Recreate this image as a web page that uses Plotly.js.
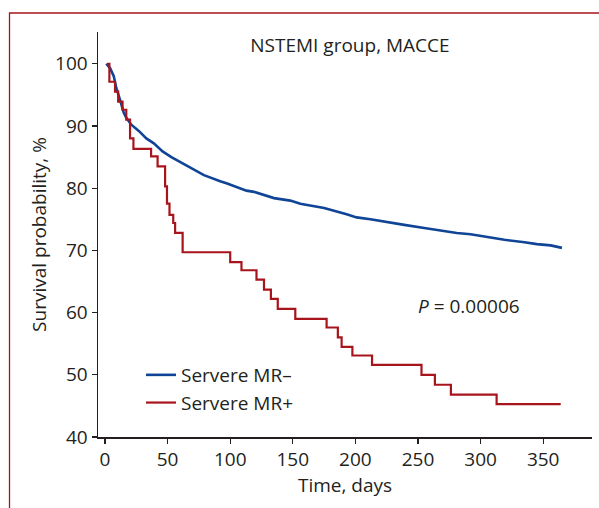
<!DOCTYPE html>
<html>
<head>
<meta charset="utf-8">
<script src="https://cdn.plot.ly/plotly-3.0.1.min.js"></script>
<style>
  html, body { margin: 0; padding: 0; background: #ffffff; }
  #chart { width: 599px; height: 508px; }
</style>
</head>
<body>
<div id="chart"></div>
<script>
// Severe MR– (blue) survival curve
var mrNegDays = [1, 4, 7, 9, 12, 15, 17, 21, 27, 33, 39, 46, 53, 60, 65, 76, 79, 92, 97, 113, 119, 135, 148, 156, 175, 193, 201, 212, 228, 239, 255, 265, 281, 292, 308, 319, 335, 345, 356, 365];
var mrNegSurv = [100, 99.3, 98.0, 96.1, 94.2, 92.1, 91.3, 90.2, 89.2, 88.0, 87.2, 85.9, 85.0, 84.2, 83.6, 82.4, 82.1, 81.1, 80.8, 79.6, 79.4, 78.4, 78.0, 77.5, 76.8, 75.8, 75.3, 75.0, 74.4, 74.1, 73.6, 73.3, 72.8, 72.6, 72.0, 71.7, 71.3, 71.0, 70.8, 70.4];

// Severe MR+ (red) Kaplan-Meier steps
var mrPosDays = [1.5, 3.5, 8, 10.5, 14, 17, 20, 22.7, 36.8, 42, 48, 49.5, 51.5, 54.5, 56, 62, 100, 109, 121, 127, 132.5, 138, 152, 177, 186, 189, 197.6, 213.3, 252.8, 263.5, 276.3, 312.8, 364];
var mrPosSurv = [100, 97.1, 95.5, 93.9, 92.6, 91.0, 88.0, 86.3, 85.1, 83.5, 80.3, 77.5, 75.7, 74.4, 72.8, 69.7, 68.1, 66.8, 65.3, 63.7, 62.2, 60.6, 59.0, 57.6, 56.0, 54.5, 53.1, 51.6, 50.0, 48.4, 46.8, 45.3, 45.3];

var seriesNames = ['Servere MR–', 'Servere MR+'];
var xTicks = [0, 50, 100, 150, 200, 250, 300, 350];
var yTicks = [40, 50, 60, 70, 80, 90, 100];

var chartTitle = 'NSTEMI group, MACCE';
var pText = '<i>P</i> = 0.00006';
var pPos = {x: 291, y: 61.0};

var txt = '#231f20';
var fontFam = '"Open Sans", "Noto Sans", sans-serif';
var fs = 19;

var traces = [
  {
    x: mrNegDays, y: mrNegSurv, type: 'scatter', mode: 'lines',
    name: seriesNames[0],
    line: {color: '#0f4496', width: 2.6, shape: 'linear'}
  },
  {
    x: mrPosDays, y: mrPosSurv, type: 'scatter', mode: 'lines',
    name: seriesNames[1],
    line: {color: '#a8141c', width: 2.2, shape: 'hv'}
  }
];

var layout = {
  width: 599, height: 508,
  margin: {l: 98, r: 7, t: 32, b: 71, pad: 0},
  paper_bgcolor: '#ffffff', plot_bgcolor: '#ffffff',
  font: {family: fontFam, size: fs, color: txt},
  showlegend: true,
  legend: {
    x: 0.087, y: 0.20, xanchor: 'left', yanchor: 'top',
    bgcolor: 'rgba(0,0,0,0)', borderwidth: 0,
    font: {family: fontFam, size: fs, color: txt},
    tracegroupgap: 0
  },
  title: {
    text: chartTitle,
    font: {family: fontFam, size: fs, color: txt},
    xref: 'paper', x: 0.51, xanchor: 'center',
    yref: 'container', y: 1 - 45 / 508, yanchor: 'middle'
  },
  xaxis: {
    range: [-5.6, 389],
    tickvals: xTicks, ticktext: xTicks.map(String),
    ticks: 'outside', ticklen: 5, tickwidth: 1.2, tickcolor: '#231f20',
    showline: true, linecolor: '#231f20', linewidth: 1.5,
    showgrid: false, zeroline: false,
    tickfont: {family: fontFam, size: fs, color: txt},
    title: {text: 'Time, days', standoff: 7, font: {family: fontFam, size: fs, color: txt}}
  },
  yaxis: {
    range: [40, 105.1],
    tickvals: yTicks, ticktext: yTicks.map(String),
    ticks: 'outside', ticklen: 5, tickwidth: 1.2, tickcolor: '#231f20',
    showline: true, linecolor: '#231f20', linewidth: 1.5,
    showgrid: false, zeroline: false,
    tickfont: {family: fontFam, size: fs, color: txt},
    title: {text: 'Survival probability, %', standoff: 3, font: {family: fontFam, size: fs, color: txt}}
  },
  annotations: [
    {
      x: pPos.x, y: pPos.y, xref: 'x', yref: 'y',
      text: pText, showarrow: false,
      xanchor: 'center', yanchor: 'middle',
      font: {family: fontFam, size: fs, color: txt}
    }
  ],
  shapes: [
    {
      type: 'rect', xref: 'paper', yref: 'paper',
      x0: (9.5 - 98) / 494, x1: (605 - 98) / 494,
      y0: (437 - 515) / 405, y1: (437 - 13) / 405,
      line: {color: '#a8141c', width: 1.3}, fillcolor: 'rgba(0,0,0,0)',
      layer: 'below'
    }
  ]
};

Plotly.newPlot('chart', traces, layout, {displayModeBar: false, staticPlot: true});
</script>
</body>
</html>
